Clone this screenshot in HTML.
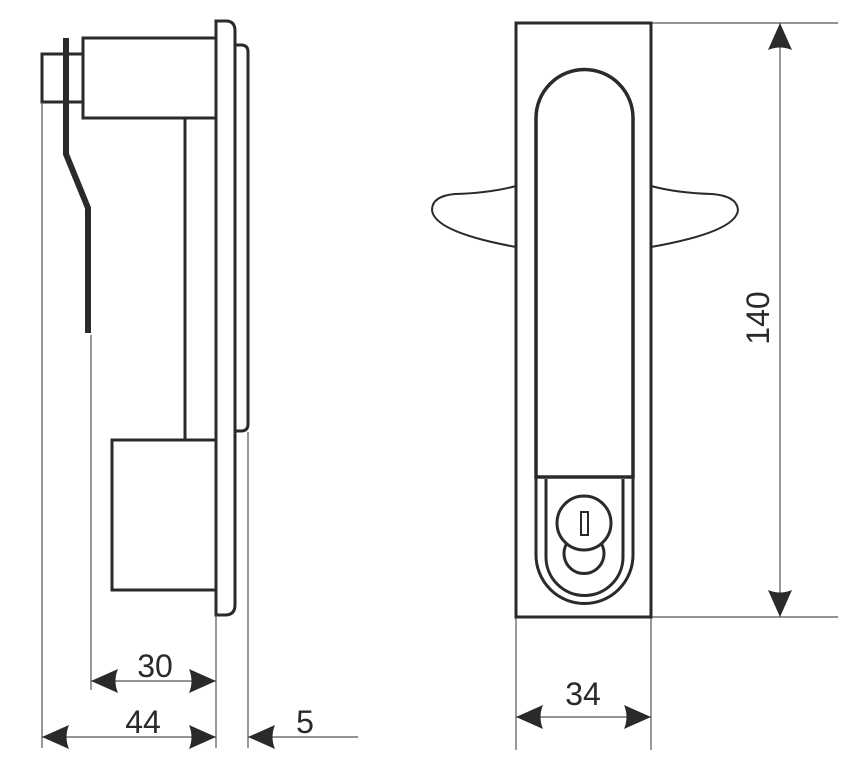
<!DOCTYPE html>
<html><head><meta charset="utf-8"><style>
html,body{margin:0;padding:0;background:#fff;}
svg{display:block;}
text{font-family:"Liberation Sans",Arial,sans-serif;fill:#2a2a28;}
</style></head><body>
<svg width="858" height="774" viewBox="0 0 858 774" xmlns="http://www.w3.org/2000/svg">
<defs>
<path id="ar" d="M0 0 L27 -12 Q22 0 27 12 Z" fill="#2a2a28"/>
</defs>
<g fill="none" stroke="#2a2a28" stroke-width="3">
<!-- left view -->
<rect x="42" y="54" width="41" height="48"/>
<rect x="83" y="38" width="133" height="80"/>
<line x1="185" y1="118" x2="185" y2="440"/>
<rect x="112" y="440" width="104" height="150"/>
<path d="M216 615 L216 21 L226 21 Q235 21 235 31 L235 605 Q235 615 225 615 Z"/>
<path d="M236 45 L241 45 Q248 45 248 52 L248 424 Q248 431 241 431 L236 431"/>
<path d="M66 38 L66 154 L88 208 L88 333" stroke-width="6"/>
</g>
<g stroke="#555" stroke-width="1.2">
<line x1="42" y1="102" x2="42" y2="748"/>
<line x1="91" y1="335" x2="91" y2="690"/>
<line x1="216" y1="615" x2="216" y2="748"/>
<line x1="248" y1="432" x2="248" y2="748"/>
<line x1="91" y1="681" x2="216" y2="681"/>
<line x1="42" y1="737" x2="216" y2="737"/>
<line x1="248" y1="737" x2="358" y2="737"/>
<!-- right dims -->
<line x1="651" y1="23" x2="838" y2="23"/>
<line x1="651" y1="617" x2="838" y2="617"/>
<line x1="780" y1="23" x2="780" y2="617"/>
<line x1="516" y1="617" x2="516" y2="750"/>
<line x1="651" y1="617" x2="651" y2="750"/>
<line x1="516" y1="717" x2="651" y2="717"/>
</g>
<use href="#ar" transform="translate(91,681)"/>
<use href="#ar" transform="translate(216,681) rotate(180)"/>
<use href="#ar" transform="translate(42,737)"/>
<use href="#ar" transform="translate(216,737) rotate(180)"/>
<use href="#ar" transform="translate(248,737)"/>
<use href="#ar" transform="translate(516,717)"/>
<use href="#ar" transform="translate(651,717) rotate(180)"/>
<use href="#ar" transform="translate(780,23) rotate(90)"/>
<use href="#ar" transform="translate(780,617) rotate(-90)"/>
<text x="155" y="677" font-size="32" text-anchor="middle">30</text>
<text x="143" y="733" font-size="32" text-anchor="middle">44</text>
<text x="305" y="733" font-size="32" text-anchor="middle">5</text>
<text x="583" y="705" font-size="32" text-anchor="middle">34</text>
<text transform="translate(769,318) rotate(-90)" font-size="32" text-anchor="middle">140</text>
<!-- right view -->
<g fill="none" stroke="#2a2a28">
<path d="M516 186 Q490 193 455 194 Q432 196 432 210 Q434 232 516 247" stroke-width="2"/>
<path d="M651 186 Q677 193 712 194 Q737 196 738 210 Q736 232 651 247" stroke-width="2"/>
<rect x="516" y="23" width="135" height="594" stroke-width="3"/>
<path d="M536 477 L536 118 A48 48 0 0 1 633 118 L633 477 Z" stroke-width="3.5"/>
<path d="M536 477 L536 555 A48 48 0 0 0 633 555 L633 477" stroke-width="3"/>
<path d="M546 479 L546 557 A38 38 0 0 0 623 557 L623 479" stroke-width="3"/>
<path d="M567 543 A20 20 0 1 0 601 543" stroke-width="3"/>
<circle cx="584" cy="523" r="27" fill="#fff" stroke-width="3"/>
<rect x="581" y="512" width="7" height="23" stroke-width="2"/>
</g>
</svg>
</body></html>
